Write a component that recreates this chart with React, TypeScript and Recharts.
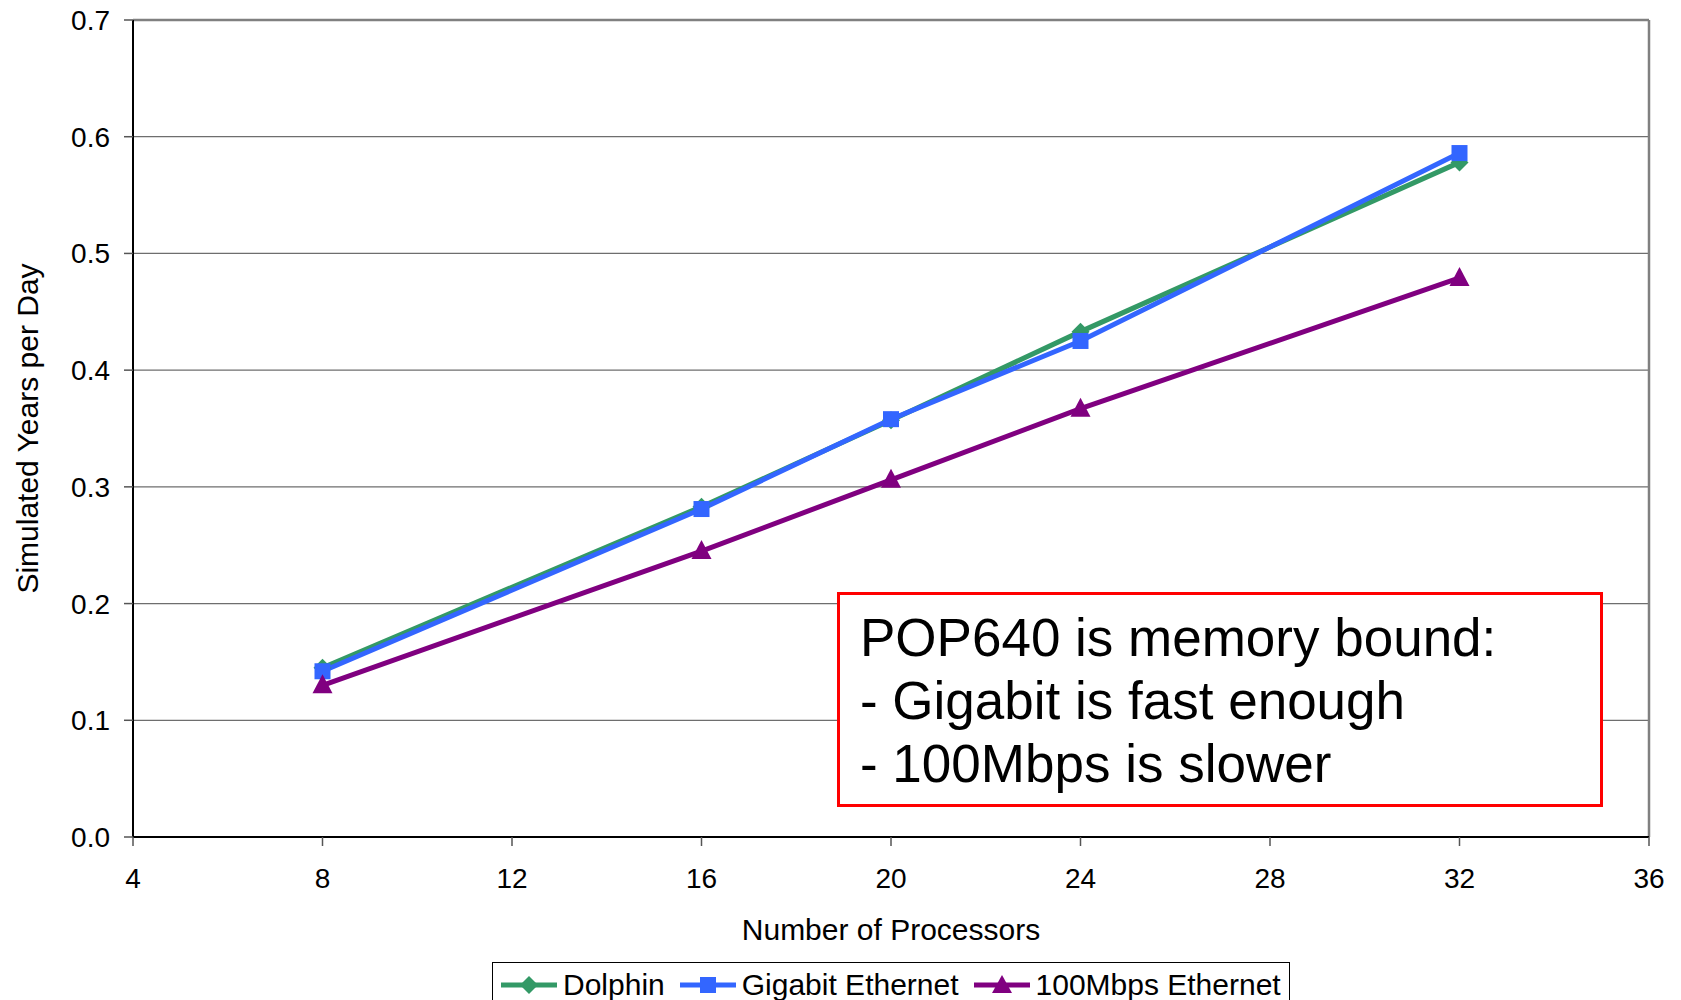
import React from "react";
import {
  LineChart,
  Line,
  XAxis,
  YAxis,
  CartesianGrid,
  Legend,
  Label,
  ReferenceLine,
} from "recharts";

const processors = [8, 16, 20, 24, 32];
const dolphin = [0.145, 0.283, 0.357, 0.433, 0.578];
const gigabit = [0.142, 0.281, 0.358, 0.425, 0.586];
const mbps100 = [0.13, 0.245, 0.306, 0.367, 0.479];

const xTicks = [4, 8, 12, 16, 20, 24, 28, 32, 36];
const yTicks = [0, 0.1, 0.2, 0.3, 0.4, 0.5, 0.6, 0.7];

const noteLines = [
  "POP640 is memory bound:",
  "- Gigabit is fast enough",
  "- 100Mbps is slower",
];

const data = processors.map((p, i) => ({
  p,
  dolphin: dolphin[i],
  gigabit: gigabit[i],
  mbps100: mbps100[i],
}));

const GREEN = "#339966";
const BLUE = "#3366FF";
const PURPLE = "#800080";
const FONT = "'Liberation Sans', Arial, sans-serif";

const diamondDot = (props: any) => {
  const { cx, cy, index } = props;
  const r = 9;
  return (
    <path
      key={`dia-${index}`}
      d={`M${cx},${cy - r} L${cx + r},${cy} L${cx},${cy + r} L${cx - r},${cy} Z`}
      fill={GREEN}
    />
  );
};

const squareDot = (props: any) => {
  const { cx, cy, index } = props;
  const s = 8;
  return <rect key={`sq-${index}`} x={cx - s} y={cy - s} width={s * 2} height={s * 2} fill={BLUE} />;
};

const triangleDot = (props: any) => {
  const { cx, cy, index } = props;
  return (
    <path
      key={`tri-${index}`}
      d={`M${cx},${cy - 11} L${cx + 10},${cy + 8} L${cx - 10},${cy + 8} Z`}
      fill={PURPLE}
    />
  );
};

const legendItems = [
  { name: "Dolphin", color: GREEN, shape: "diamond" },
  { name: "Gigabit Ethernet", color: BLUE, shape: "square" },
  { name: "100Mbps Ethernet", color: PURPLE, shape: "triangle" },
];

function LegendMarker({ color, shape }: { color: string; shape: string }) {
  return (
    <svg width={58} height={22} style={{ display: "block", flexShrink: 0 }}>
      <line x1={1} y1={11} x2={57} y2={11} stroke={color} strokeWidth={5} />
      {shape === "diamond" && <path d="M29,2 L38,11 L29,20 L20,11 Z" fill={color} />}
      {shape === "square" && <rect x={21} y={3} width={16} height={16} fill={color} />}
      {shape === "triangle" && <path d="M29,1 L39,19 L19,19 Z" fill={color} />}
    </svg>
  );
}

function ChartLegend() {
  return (
    <div
      style={{
        width: 798,
        height: 52,
        border: "1px solid #000",
        boxSizing: "border-box",
        display: "flex",
        flexWrap: "nowrap",
        alignItems: "flex-start",
        paddingLeft: 7,
        paddingTop: 7,
        fontFamily: FONT,
        fontSize: 30,
        color: "#000",
        background: "#fff",
        whiteSpace: "nowrap",
        overflow: "hidden",
      }}
    >
      {legendItems.map((item) => (
        <div
          key={item.name}
          style={{ display: "flex", alignItems: "center", marginRight: 14, flexShrink: 0 }}
        >
          <LegendMarker color={item.color} shape={item.shape} />
          <span style={{ marginLeft: 5, lineHeight: "30px", whiteSpace: "nowrap" }}>{item.name}</span>
        </div>
      ))}
    </div>
  );
}

export default function App() {
  return (
    <div style={{ position: "relative", width: 1681, height: 1000, overflow: "hidden", background: "#fff" }}>
      <style>{`body{margin:0}`}</style>
      <LineChart
        width={1681}
        height={1000}
        data={data}
        margin={{ top: 20, right: 32, bottom: 63, left: 0 }}
      >
        <CartesianGrid vertical={false} stroke="#6e6e6e" strokeWidth={1.2} />
        <ReferenceLine x={36} stroke="#808080" strokeWidth={2.5} />
        <ReferenceLine y={0.7} stroke="#808080" strokeWidth={2.5} />
        <XAxis
          dataKey="p"
          type="number"
          domain={[4, 36]}
          ticks={xTicks}
          height={100}
          tickSize={9}
          tickMargin={22}
          axisLine={{ stroke: "#000", strokeWidth: 2 }}
          tickLine={{ stroke: "#555", strokeWidth: 1.5 }}
          tick={{ fill: "#000", fontSize: 28, fontFamily: FONT }}
        >
          <Label
            content={({ viewBox }: any) => (
              <text
                x={viewBox.x + viewBox.width / 2}
                y={929}
                textAnchor="middle"
                dominantBaseline="central"
                fontSize={30}
                fontFamily={FONT}
                fill="#000"
              >
                Number of Processors
              </text>
            )}
          />
        </XAxis>
        <YAxis
          type="number"
          domain={[0, 0.7]}
          ticks={yTicks}
          width={133}
          tickSize={9}
          tickMargin={14}
          tickFormatter={(v: number) => v.toFixed(1)}
          axisLine={{ stroke: "#000", strokeWidth: 2 }}
          tickLine={{ stroke: "#555", strokeWidth: 1.5 }}
          tick={{ fill: "#000", fontSize: 28, fontFamily: FONT }}
        >
          <Label
            content={({ viewBox }: any) => {
              const cy = viewBox.y + viewBox.height / 2;
              return (
                <text
                  x={27}
                  y={cy}
                  transform={`rotate(-90, 27, ${cy})`}
                  textAnchor="middle"
                  dominantBaseline="central"
                  fontSize={30}
                  fontFamily={FONT}
                  fill="#000"
                >
                  Simulated Years per Day
                </text>
              );
            }}
          />
        </YAxis>
        <Line
          dataKey="dolphin"
          name="Dolphin"
          stroke={GREEN}
          strokeWidth={5}
          dot={diamondDot}
          activeDot={false}
          isAnimationActive={false}
        />
        <Line
          dataKey="gigabit"
          name="Gigabit Ethernet"
          stroke={BLUE}
          strokeWidth={5}
          dot={squareDot}
          activeDot={false}
          isAnimationActive={false}
        />
        <Line
          dataKey="mbps100"
          name="100Mbps Ethernet"
          stroke={PURPLE}
          strokeWidth={5}
          dot={triangleDot}
          activeDot={false}
          isAnimationActive={false}
        />
        <Legend
          layout="horizontal"
          verticalAlign="middle"
          align="center"
          content={() => <ChartLegend />}
          wrapperStyle={{ position: "absolute", left: 492, top: 962, width: 798 }}
        />
      </LineChart>
      <div
        style={{
          position: "absolute",
          left: 837,
          top: 592,
          width: 766,
          height: 215,
          border: "3px solid #ff0000",
          boxSizing: "border-box",
          background: "#fff",
          fontFamily: FONT,
          fontSize: 53,
          lineHeight: "63px",
          paddingLeft: 20,
          paddingTop: 11,
          color: "#000",
        }}
      >
        {noteLines.map((l) => (
          <div key={l} style={{ whiteSpace: "nowrap" }}>
            {l}
          </div>
        ))}
      </div>
    </div>
  );
}
